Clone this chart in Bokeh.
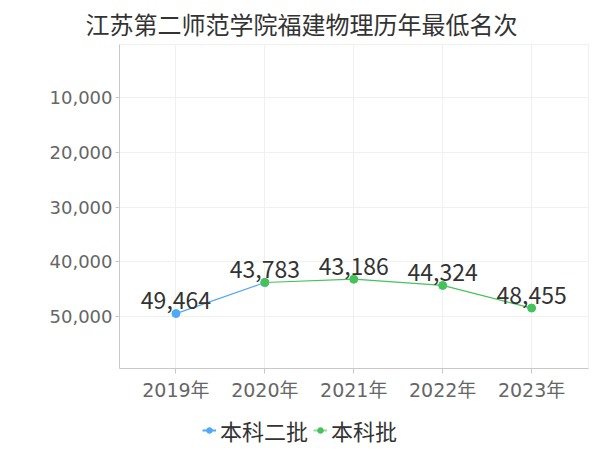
from bokeh.plotting import figure
from bokeh.layouts import column
from bokeh.models import Range1d, FixedTicker, Legend, LegendItem, NumeralTickFormatter
from bokeh.core.properties import value
from bokeh.embed import file_html
from bokeh.resources import INLINE

chart_title = "江苏第二师范学院福建物理历年最低名次"
years = ["2019年", "2020年", "2021年", "2022年", "2023年"]
s1_name = "本科二批"
s1_years = ["2019年", "2020年"]
s1_vals = [49464, 43783]
s2_name = "本科批"
s2_years = ["2020年", "2021年", "2022年", "2023年"]
s2_vals = [43783, 43186, 44324, 48455]
y_ticks = [10000, 20000, 30000, 40000, 50000]

BLUE = "#4ea9f7"
GREEN = "#43c35a"
CJK = "Noto Sans CJK SC"

p = figure(width=598, height=414,
           x_range=Range1d(-0.635, 4.64), y_range=Range1d(59500, 300),
           output_backend="svg", toolbar_location=None,
           min_border_left=119, min_border_right=10, min_border_top=44, min_border_bottom=46)

p.title.text = chart_title
p.title.align = "left"
p.title.offset = -34
p.title.text_font = CJK
p.title.text_font_size = "24px"
p.title.text_font_style = "normal"
p.title.text_color = "#333333"
p.title.standoff = 4
p.title.vertical_align = "top"

p.outline_line_color = "#f0f0f0"
idx = list(range(len(years)))
p.xaxis.ticker = FixedTicker(ticks=idx)
p.xaxis.major_label_overrides = {i: years[i] for i in idx}
p.yaxis.ticker = FixedTicker(ticks=y_ticks)
p.yaxis.formatter = NumeralTickFormatter(format="0,0")
p.xgrid.ticker = FixedTicker(ticks=idx)
p.ygrid.ticker = FixedTicker(ticks=y_ticks)
for g in (p.xgrid, p.ygrid):
    g.grid_line_color = "#f0f0f0"
for ax in (p.xaxis, p.yaxis):
    ax.axis_line_color = "#c8c8c8"
    ax.major_tick_line_color = "#c8c8c8"
    ax.minor_tick_line_color = None
    ax.major_tick_in = 0
    ax.major_label_text_color = "#666666"
    ax.major_label_text_font = "DejaVu Sans, Noto Sans CJK SC"
    ax.major_label_text_font_size = "18px"
p.xaxis.major_label_text_font_size = "19px"
p.xaxis.major_tick_out = 5
p.yaxis.major_tick_out = 4
p.yaxis.major_label_standoff = 3

x1 = [years.index(y) for y in s1_years]
x2 = [years.index(y) for y in s2_years]

p.line(x1, s1_vals, line_color=BLUE, line_width=1.2)
p.scatter(x1, s1_vals, size=8, fill_color=BLUE, line_color=BLUE)
p.line(x2, s2_vals, line_color=GREEN, line_width=1.2)
p.scatter(x2, s2_vals, size=8, fill_color=GREEN, line_color=GREEN)

# labels: series 1 points that coincide with series 2 are labelled once
lab1 = [(x, v) for x, v in zip(x1, s1_vals) if x not in x2]
for xs, vs in (([a for a, _ in lab1], [b for _, b in lab1]), (x2, s2_vals)):
    p.text(xs, vs, text=[f"{v:,}" for v in vs], text_align="center", text_baseline="middle",
           y_offset=-13, text_font=value(CJK), text_font_size="23px", text_color="#333333")

# legend strip below the chart (its series glyphs lie outside its tiny range, only the legend shows)
lg = figure(width=598, height=36, x_range=Range1d(0, 1), y_range=Range1d(0, 1),
            output_backend="svg", toolbar_location=None,
            min_border_left=0, min_border_right=0, min_border_top=0, min_border_bottom=0)
lg.axis.visible = False
lg.grid.visible = False
lg.outline_line_color = None
k1 = lg.line(x1, s1_vals, line_color=BLUE, line_width=2)
d1 = lg.scatter(x1, s1_vals, size=7, fill_color=BLUE, line_color=BLUE)
k2 = lg.line(x2, s2_vals, line_color="#8fdc9a", line_width=2)
d2 = lg.scatter(x2, s2_vals, size=7, fill_color=GREEN, line_color=GREEN)
legend = Legend(items=[LegendItem(label=s1_name, renderers=[k1, d1]),
                       LegendItem(label=s2_name, renderers=[k2, d2])],
                orientation="horizontal", location=(83, 4),
                border_line_alpha=0, background_fill_alpha=0,
                label_text_font=CJK, label_text_font_size="22px", label_text_color="#333333",
                glyph_width=14, label_standoff=4, spacing=5, padding=0, margin=0)
lg.add_layout(legend, "center")

layout = column(p, lg, spacing=0)
open("out.html", "w").write(file_html(layout, INLINE))
